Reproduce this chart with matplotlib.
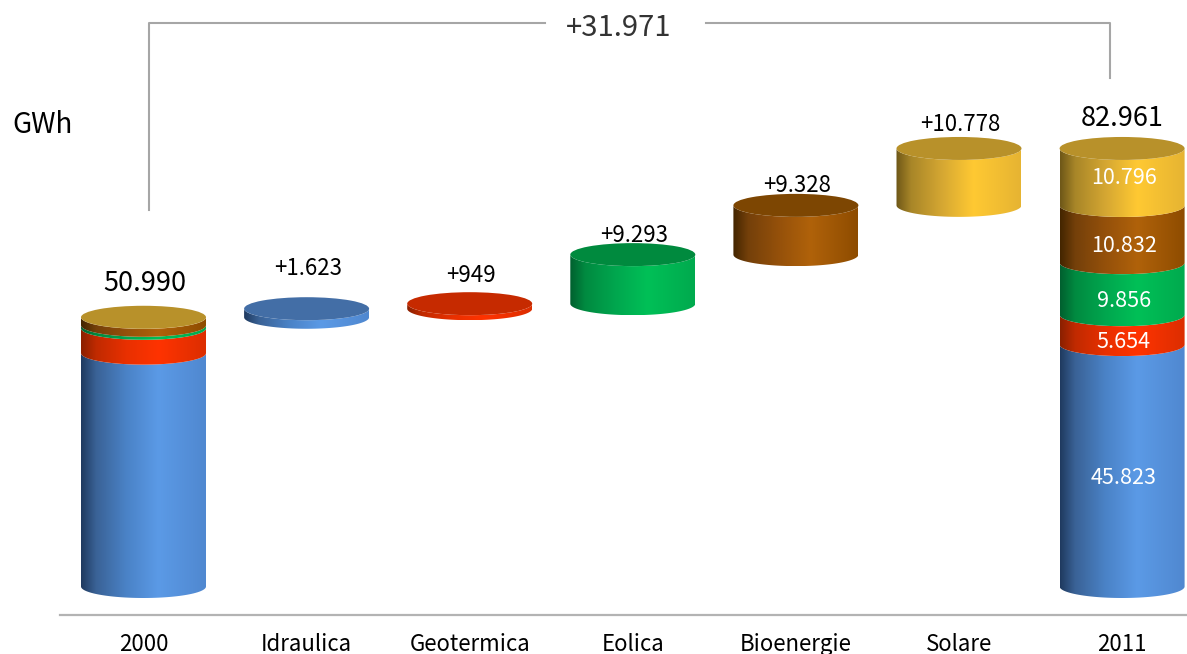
#!/usr/bin/env python3
"""Renewable generation 2000-2011: waterfall drawn as 3D-look cylinders."""
import matplotlib

matplotlib.use("Agg")
import matplotlib.pyplot as plt
import numpy as np
from matplotlib.colors import LinearSegmentedColormap
from matplotlib.patches import Ellipse, PathPatch
from matplotlib.path import Path

categories = ["2000", "Idraulica", "Geotermica", "Eolica", "Bioenergie", "Solare", "2011"]
sources = ["idro", "geo", "eolica", "bio", "solare"]
values_2000 = [44200, 4705, 563, 1504, 18]
values_2011 = [45823, 5654, 9856, 10832, 10796]
increments = [1623, 949, 9293, 9328, 10778]
total_2000 = 50990
total_2011 = 82961
total_delta = 31971

# left edge, shoulder, mid, highlight, right edge, top cap
palette = {
    "idro": ["#1f3a5f", "#3a6296", "#4a82c6", "#5b9ae6", "#5088d0", "#436ea6"],
    "geo": ["#8a2000", "#c02a00", "#e83000", "#ff3300", "#dc2e00", "#c62a00"],
    "eolica": ["#00602f", "#008a40", "#00a64e", "#00c057", "#00aa4e", "#008a3e"],
    "bio": ["#432500", "#74400a", "#94500a", "#b0620a", "#8e4c00", "#7d4602"],
    "solare": ["#6e5718", "#a88628", "#d4a632", "#ffc933", "#e6b432", "#b8912a"],
}
stops = [0, 0.12, 0.36, 0.62, 1]
cmaps = {
    k: LinearSegmentedColormap.from_list(k, list(zip(stops, v[:5])))
    for k, v in palette.items()
}

W, H = 1187, 654
fig = plt.figure(figsize=(W / 100, H / 100), dpi=100)
plt.rcParams["font.family"] = ["Noto Sans CJK KR", "DejaVu Sans"]

# axes box: left 60 px, baseline at 615 px, up to the top of the figure
ax = fig.add_axes([60 / W, 1 - 615 / H, 1 - 60 / W, 615 / H])
step_px, first_px = 163.1, 143.5
px_per_gwh = 0.00528
base_px = 586.5
x_lim = ((60 - first_px) / step_px, (W - first_px) / step_px)
y_lim = ((base_px - 615) / px_per_gwh, base_px / px_per_gwh)

half_w = 62.5 / step_px
half_h = 11.5 / px_per_gwh


def side(x, y0, y1, key):
    t = np.linspace(np.pi, 2 * np.pi, 60)
    bottom = np.column_stack([x + half_w * np.cos(t), y0 + half_h * np.sin(t)])
    top = np.column_stack([x + half_w * np.cos(t[::-1]), y1 + half_h * np.sin(t[::-1])])
    verts = np.vstack([bottom, top, bottom[:1]])
    clip = PathPatch(Path(verts), transform=ax.transData, fc="none", ec="none")
    ax.add_patch(clip)
    im = ax.imshow(
        np.linspace(0, 1, 256)[None, :], cmap=cmaps[key], aspect="auto",
        extent=(x - half_w, x + half_w, y0 - half_h, y1 + half_h),
        interpolation="bilinear", zorder=2,
    )
    im.set_clip_path(clip)


def cap(x, y, key):
    ax.add_patch(Ellipse((x, y), 2 * half_w, 2 * half_h, fc=palette[key][5], ec="none", zorder=3))


def stack(x, parts):
    bottom = 0
    for key, val in zip(sources, parts):
        side(x, bottom, bottom + val, key)
        bottom += val
    cap(x, bottom, sources[-1])


stack(0, values_2000)
stack(6, values_2011)

level = total_2000
for i, (key, inc) in enumerate(zip(sources, increments), start=1):
    side(i, level, level + inc, key)
    level += inc
    cap(i, level, key)

ax.set_xlim(*x_lim)
ax.set_ylim(*y_lim)

# value labels
lift_px = [40, 28, 19, 20, 24]
level = total_2000
for i, inc in enumerate(increments, start=1):
    level += inc
    ax.text(i + 0.01, level + lift_px[i - 1] / px_per_gwh, f"+{inc:,}".replace(",", "."),
            ha="center", va="center", fontsize=16, color="black", zorder=5)
ax.text(0.01, total_2000 + 34 / px_per_gwh, f"{total_2000:,}".replace(",", "."),
        ha="center", va="center", fontsize=19.5, color="black", zorder=5)
ax.text(6, total_2011 + 30 / px_per_gwh, f"{total_2011:,}".replace(",", "."),
        ha="center", va="center", fontsize=19.5, color="black", zorder=5)

bottom = 0
inner_dy = [-12, -12, -12, -12, -1]
for val, dy in zip(values_2011, inner_dy):
    ax.text(6.01, bottom + val / 2 + dy / px_per_gwh, f"{val:,}".replace(",", "."),
            ha="center", va="center", fontsize=15.5, color="white", zorder=5)
    bottom += val

# baseline and category labels
for s in ["top", "left", "right"]:
    ax.spines[s].set_visible(False)
ax.spines["bottom"].set_color("#b3b3b3")
ax.spines["bottom"].set_linewidth(1.6)
ax.set_yticks([])
ax.set_xticks(range(len(categories)), categories, fontsize=16)
ax.tick_params(axis="x", length=0, pad=26)
for lab in ax.get_xticklabels():
    lab.set_verticalalignment("baseline")

# bracket over the whole chart, figure pixel layout
grey = "#a6a6a6"


def px_line(xs, ys):
    fig.add_artist(plt.Line2D([x / W for x in xs], [1 - y / H for y in ys], color=grey, lw=1.5))


px_line([149, 149, 545], [210, 23, 23])
px_line([706, 1110, 1110], [23, 23, 78])
fig.text(619 / W, 1 - 28.5 / H, f"+{total_delta:,}".replace(",", "."), ha="center", va="center",
         fontsize=21, color="#333333")
fig.text(12 / W, 1 - 125 / H, "GWh", ha="left", va="center", fontsize=20, color="black")

fig.savefig("out.png", dpi=100)
